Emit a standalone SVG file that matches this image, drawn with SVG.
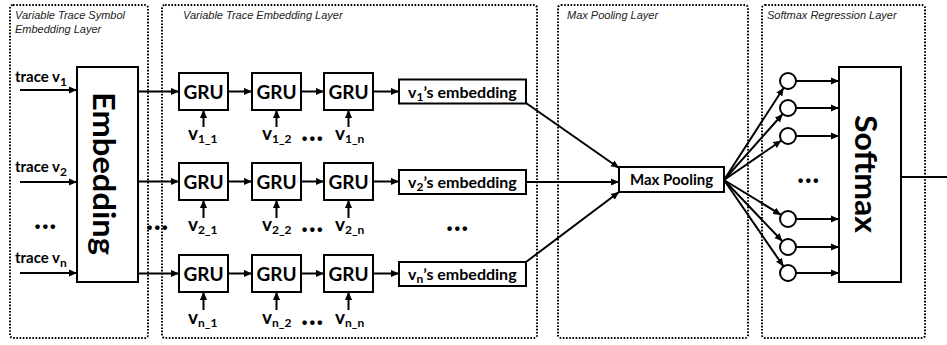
<svg xmlns="http://www.w3.org/2000/svg" width="947" height="345" viewBox="0 0 947 345">
<defs>
<marker id="ah" viewBox="0 0 10 10" refX="10" refY="5" markerWidth="8" markerHeight="8" markerUnits="userSpaceOnUse" orient="auto">
<path d="M0,0.5 L10,5 L0,9.5 z" fill="#000"/>
</marker>
</defs>
<style>
.layer{fill:none;stroke:#000;stroke-width:2;stroke-dasharray:1.6 1.6}
.lbl{font-family:"Liberation Sans",Arial,sans-serif;font-style:italic;font-size:11px;fill:#222}
.box{fill:#fff;stroke:#000;stroke-width:2}
.t{font-family:Lato,"Open Sans",sans-serif;font-weight:bold;fill:#000}
.gru{font-size:19px;text-anchor:middle}
.big{font-size:30px}
.emb{font-size:16px}
.tr{font-size:15px}
.v{font-size:19px}
.sub{font-size:12px}
.dots{font-size:30px;letter-spacing:0.5px}
.c{fill:#fff;stroke:#000;stroke-width:2}
.ar{fill:none;stroke:#000;stroke-width:2;marker-end:url(#ah)}
.ln{fill:none;stroke:#000;stroke-width:2}
</style>
<rect width="947" height="345" fill="#fff"/>

<g id="layer-symbol">
<rect class="layer" x="10" y="5" width="138" height="333" rx="3"/>
<text class="lbl" x="15" y="19">Variable Trace Symbol</text>
<text class="lbl" x="15" y="33">Embedding Layer</text>
</g>
<g id="layer-trace">
<rect class="layer" x="162" y="5" width="375" height="333" rx="3"/>
<text class="lbl" x="183" y="19">Variable Trace Embedding Layer</text>
</g>
<g id="layer-pool">
<rect class="layer" x="558" y="5" width="190" height="333" rx="3"/>
<text class="lbl" x="567" y="19">Max Pooling Layer</text>
</g>
<g id="layer-softmax">
<rect class="layer" x="762" y="5" width="163" height="333" rx="3"/>
<text class="lbl" x="767" y="19">Softmax Regression Layer</text>
</g>

<g id="inputs">
<text class="t tr" x="15" y="82">trace v<tspan class="sub" dy="4">1</tspan></text>
<text class="t tr" x="15" y="172">trace v<tspan class="sub" dy="4">2</tspan></text>
<text class="t tr" x="15" y="263">trace v<tspan class="sub" dy="4">n</tspan></text>
<text class="t dots" x="34" y="229">...</text>
</g>

<g id="embedding">
<rect class="box" x="77" y="67" width="61" height="215"/>
<text class="t big" transform="translate(93,92) rotate(90)" textLength="163" lengthAdjust="spacingAndGlyphs">Embedding</text>
</g>

<g id="gru-1-1"><rect class="box" x="179" y="73" width="49" height="37"/><text class="t gru" x="203.5" y="98.5">GRU</text></g>
<g id="gru-1-2"><rect class="box" x="252" y="73" width="49" height="37"/><text class="t gru" x="276.5" y="98.5">GRU</text></g>
<g id="gru-1-n"><rect class="box" x="324" y="73" width="49" height="37"/><text class="t gru" x="348.5" y="98.5">GRU</text></g>
<g id="gru-2-1"><rect class="box" x="179" y="163" width="49" height="37"/><text class="t gru" x="203.5" y="188.5">GRU</text></g>
<g id="gru-2-2"><rect class="box" x="252" y="163" width="49" height="37"/><text class="t gru" x="276.5" y="188.5">GRU</text></g>
<g id="gru-2-n"><rect class="box" x="324" y="163" width="49" height="37"/><text class="t gru" x="348.5" y="188.5">GRU</text></g>
<g id="gru-n-1"><rect class="box" x="179" y="255" width="49" height="37"/><text class="t gru" x="203.5" y="280.5">GRU</text></g>
<g id="gru-n-2"><rect class="box" x="252" y="255" width="49" height="37"/><text class="t gru" x="276.5" y="280.5">GRU</text></g>
<g id="gru-n-n"><rect class="box" x="324" y="255" width="49" height="37"/><text class="t gru" x="348.5" y="280.5">GRU</text></g>

<g id="symbols">
<text class="t v" x="188" y="140">v<tspan class="sub" dy="3">1_1</tspan></text>
<text class="t v" x="262" y="140">v<tspan class="sub" dy="3">1_2</tspan></text>
<text class="t v" x="335" y="140">v<tspan class="sub" dy="3">1_n</tspan></text>
<text class="t dots" x="301" y="141">...</text>
<text class="t v" x="188" y="231">v<tspan class="sub" dy="3">2_1</tspan></text>
<text class="t v" x="262" y="231">v<tspan class="sub" dy="3">2_2</tspan></text>
<text class="t v" x="335" y="231">v<tspan class="sub" dy="3">2_n</tspan></text>
<text class="t dots" x="301" y="232">...</text>
<text class="t v" x="188" y="324">v<tspan class="sub" dy="3">n_1</tspan></text>
<text class="t v" x="262" y="324">v<tspan class="sub" dy="3">n_2</tspan></text>
<text class="t v" x="335" y="324">v<tspan class="sub" dy="3">n_n</tspan></text>
<text class="t dots" x="301" y="325">...</text>
<text class="t dots" x="146" y="230">...</text>
</g>

<g id="emb-1"><rect class="box" x="399" y="79.5" width="127" height="24"/><text class="t emb" x="408" y="97.5">v<tspan class="sub" dy="3">1</tspan><tspan dy="-3">’s embedding</tspan></text></g>
<g id="emb-2"><rect class="box" x="399" y="170" width="127" height="24"/><text class="t emb" x="408" y="188">v<tspan class="sub" dy="3">2</tspan><tspan dy="-3">’s embedding</tspan></text></g>
<g id="emb-n"><rect class="box" x="399" y="262" width="127" height="24"/><text class="t emb" x="408" y="280">v<tspan class="sub" dy="3">n</tspan><tspan dy="-3">’s embedding</tspan></text></g>
<text class="t dots" x="446" y="231">...</text>

<g id="maxpool"><rect class="box" x="619" y="167" width="105" height="25"/><text class="t" font-size="15" x="671.5" y="185" text-anchor="middle">Max Pooling</text></g>

<g id="neurons">
<circle class="c" cx="788" cy="81" r="8"/>
<circle class="c" cx="788" cy="108" r="8"/>
<circle class="c" cx="788" cy="136" r="8"/>
<circle class="c" cx="788" cy="219" r="8"/>
<circle class="c" cx="788" cy="247" r="8"/>
<circle class="c" cx="788" cy="273" r="8"/>
<text class="t dots" x="797" y="183">...</text>
</g>

<g id="softmax">
<rect class="box" x="839" y="67" width="62" height="215"/>
<text class="t big" transform="translate(855,115) rotate(90)" textLength="118" lengthAdjust="spacingAndGlyphs">Softmax</text>
</g>

<g id="connectors">
<line class="ar" x1="20" y1="90" x2="77" y2="90"/>
<line class="ar" x1="20" y1="182" x2="77" y2="182"/>
<line class="ar" x1="20" y1="273" x2="77" y2="273"/>
<line class="ar" x1="138" y1="91.5" x2="179" y2="91.5"/>
<line class="ar" x1="138" y1="181.5" x2="179" y2="181.5"/>
<line class="ar" x1="138" y1="273.5" x2="179" y2="273.5"/>
<line class="ar" x1="228" y1="91.5" x2="252" y2="91.5"/>
<line class="ar" x1="301" y1="91.5" x2="324" y2="91.5"/>
<line class="ar" x1="373" y1="91.5" x2="399" y2="91.5"/>
<line class="ar" x1="228" y1="181.5" x2="252" y2="181.5"/>
<line class="ar" x1="301" y1="181.5" x2="324" y2="181.5"/>
<line class="ar" x1="373" y1="181.5" x2="399" y2="181.5"/>
<line class="ar" x1="228" y1="273.5" x2="252" y2="273.5"/>
<line class="ar" x1="301" y1="273.5" x2="324" y2="273.5"/>
<line class="ar" x1="373" y1="273.5" x2="399" y2="273.5"/>
<line class="ar" x1="203.5" y1="127" x2="203.5" y2="110"/>
<line class="ar" x1="276.5" y1="127" x2="276.5" y2="110"/>
<line class="ar" x1="348.5" y1="127" x2="348.5" y2="110"/>
<line class="ar" x1="203.5" y1="218" x2="203.5" y2="200"/>
<line class="ar" x1="276.5" y1="218" x2="276.5" y2="200"/>
<line class="ar" x1="348.5" y1="218" x2="348.5" y2="200"/>
<line class="ar" x1="203.5" y1="310" x2="203.5" y2="292"/>
<line class="ar" x1="276.5" y1="310" x2="276.5" y2="292"/>
<line class="ar" x1="348.5" y1="310" x2="348.5" y2="292"/>
<line class="ar" x1="526" y1="103" x2="619" y2="168"/>
<line class="ar" x1="526" y1="182" x2="619" y2="182"/>
<line class="ar" x1="526" y1="262" x2="619" y2="192"/>
<line class="ar" x1="724" y1="180" x2="783.7" y2="87.7"/>
<line class="ar" x1="724" y1="180" x2="782.7" y2="114"/>
<line class="ar" x1="724" y1="180" x2="781.4" y2="140.5"/>
<line class="ar" x1="724" y1="180" x2="781.1" y2="214.9"/>
<line class="ar" x1="724" y1="180" x2="782.4" y2="241.3"/>
<line class="ar" x1="724" y1="180" x2="783.5" y2="266.4"/>
<line class="ar" x1="796" y1="81" x2="839" y2="81"/>
<line class="ar" x1="796" y1="108" x2="839" y2="108"/>
<line class="ar" x1="796" y1="136" x2="839" y2="136"/>
<line class="ar" x1="796" y1="219" x2="839" y2="219"/>
<line class="ar" x1="796" y1="247" x2="839" y2="247"/>
<line class="ar" x1="796" y1="273" x2="839" y2="273"/>
<line class="ln" x1="901" y1="177" x2="947" y2="177"/>
</g>
</svg>
